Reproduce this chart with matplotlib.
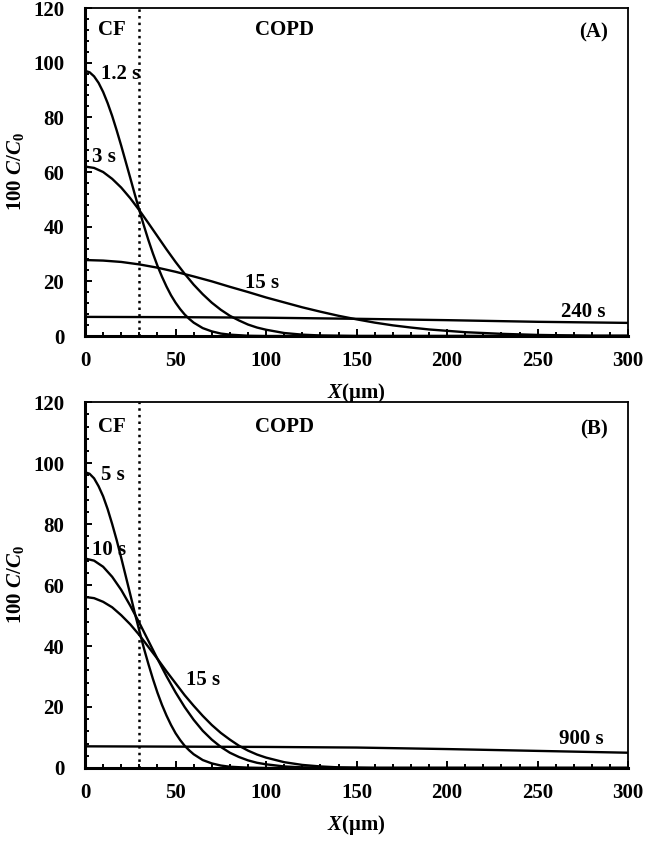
import numpy as np
import matplotlib
matplotlib.use("Agg")
import matplotlib.pyplot as plt
from matplotlib.ticker import MultipleLocator

plt.rcParams['font.family'] = ['Liberation Serif', 'DejaVu Serif']
plt.rcParams['font.weight'] = 'bold'
plt.rcParams['mathtext.fontset'] = 'custom'
plt.rcParams['mathtext.rm'] = 'Liberation Serif:bold'
plt.rcParams['mathtext.it'] = 'Liberation Serif:italic:bold'
plt.rcParams['mathtext.bf'] = 'Liberation Serif:bold'

# values, 100 C/C0 vs X (um)
x_steep = [0, 2.5, 5, 7.5, 10, 12.5, 15, 17.5, 20, 22.5, 25, 27.5, 30, 32.5, 35,
           37.5, 40, 42.5, 45, 47.5, 50, 52.5, 55, 57.5, 60, 65, 70, 75, 80, 90,
           100, 150, 200, 250, 300]
x_fine = [0, 5, 10, 15, 20, 25, 30, 35, 40, 45, 50, 55, 60, 65, 70, 75, 80,
          85, 90, 95, 100, 110, 120, 130, 140, 150, 160, 200, 250, 300]
x_wide = [0, 10, 20, 30, 40, 50, 60, 70, 80, 90, 100, 110, 120, 130, 140, 150,
          160, 170, 180, 190, 200, 210, 220, 230, 240, 250, 260, 270, 280, 290, 300]
x_flat = [0, 50, 100, 150, 200, 250, 300]

# panel A
a_1p2s = [97.0, 96.5, 95.0, 92.6, 89.3, 85.2, 80.5, 75.2, 69.6, 63.7, 57.8, 51.8,
          46.0, 40.4, 35.1, 30.2, 25.7, 21.7, 18.1, 14.9, 12.2, 9.9, 7.9, 6.3, 4.9,
          2.9, 1.7, 0.9, 0.5, 0.1, 0, 0, 0, 0, 0]
a_3s = [62.0, 61.5, 60.0, 57.5, 54.3, 50.4, 46.0, 41.3, 36.5, 31.7, 27.1, 22.8, 18.8,
        15.3, 12.2, 9.6, 7.4, 5.7, 4.2, 3.1, 2.3, 1.1, 0.5, 0.2, 0.1, 0, 0, 0, 0, 0]
a_15s = [27.8, 27.6, 27.1, 26.2, 25.0, 23.5, 21.8, 20.0, 18.0, 16.1, 14.1, 12.3, 10.5,
         8.9, 7.4, 6.1, 4.9, 3.9, 3.1, 2.4, 1.9, 1.4, 1.1, 0.8, 0.6, 0.4, 0.3, 0.2,
         0.1, 0.1, 0.1]
a_240s = [7.0, 6.9, 6.7, 6.3, 5.8, 5.2, 4.8]

# panel B
b_5s = [97.0, 96.5, 95.0, 92.4, 89.1, 84.9, 80.0, 74.7, 68.9, 62.9, 56.9, 50.8,
        45.0, 39.3, 34.1, 29.2, 24.7, 20.7, 17.2, 14.1, 11.4, 9.2, 7.3, 5.8, 4.5,
        2.6, 1.5, 0.8, 0.4, 0.1, 0, 0, 0, 0, 0]
b_10s = [68.7, 68.0, 66.0, 62.7, 58.4, 53.2, 47.6, 41.7, 35.8, 30.1, 24.8, 20.0, 15.8,
         12.2, 9.3, 6.9, 5.0, 3.6, 2.5, 1.7, 1.2, 0.5, 0.2, 0.1, 0, 0, 0, 0, 0, 0]
b_15s = [56.1, 55.7, 54.5, 52.7, 50.1, 47.1, 43.6, 39.7, 35.8, 31.7, 27.8, 23.9, 20.4,
         17.1, 14.1, 11.5, 9.3, 7.3, 5.7, 4.4, 3.4, 1.9, 1.0, 0.5, 0.2, 0.1, 0, 0, 0, 0]
b_900s = [7.1, 7.0, 6.9, 6.7, 6.2, 5.6, 5.0]

interface_x = 30

fig = plt.figure(figsize=(6.49, 8.43), dpi=100)
ax_a = fig.add_axes([0.131, 0.6014, 0.837, 0.3891])
ax_b = fig.add_axes([0.131, 0.089, 0.837, 0.434])

lw = 1.7
fs = 15


def style(ax):
    ax.set_xlim(0, 300)
    ax.set_ylim(0, 120)
    ax.xaxis.set_major_locator(MultipleLocator(50))
    ax.xaxis.set_minor_locator(MultipleLocator(10))
    ax.yaxis.set_major_locator(MultipleLocator(20))
    ax.yaxis.set_minor_locator(MultipleLocator(4))
    ax.tick_params(which='both', direction='in', top=False, right=False,
                   width=1.4, labelsize=fs)
    ax.tick_params(axis='x', which='major', length=5, pad=11)
    ax.tick_params(axis='y', which='major', length=5, pad=15)
    ax.tick_params(which='minor', length=3)
    for s in ['left', 'bottom']:
        ax.spines[s].set_linewidth(2.2)
    for s in ['top', 'right']:
        ax.spines[s].set_linewidth(1.3)
    ax.axvline(interface_x, color='black', ls=':', lw=1.8)
    ax.set_xlabel(r'$X$(μm)', fontsize=fs, fontweight='bold', labelpad=7)
    ax.set_ylabel(r'100 $C$/$C_0$', fontsize=fs, fontweight='bold', labelpad=5)
    ax.text(15, 112, 'CF', fontsize=fs, ha='center', va='center')
    ax.text(110, 112, 'COPD', fontsize=fs, ha='center', va='center')


style(ax_a)
ax_a.plot(x_steep, a_1p2s, color='black', lw=lw)
ax_a.plot(x_fine, a_3s, color='black', lw=lw)
ax_a.plot(x_wide, a_15s, color='black', lw=lw)
ax_a.plot(x_flat, a_240s, color='black', lw=lw)
ax_a.text(281, 111, '(A)', fontsize=fs, ha='center', va='center')
ax_a.text(9, 96, '1.2 s', fontsize=fs, ha='left', va='center')
ax_a.text(4, 65.5, '3 s', fontsize=fs, ha='left', va='center')
ax_a.text(98, 19.4, '15 s', fontsize=fs, ha='center', va='center')
ax_a.text(275, 8.8, '240 s', fontsize=fs, ha='center', va='center')

style(ax_b)
ax_b.plot(x_steep, b_5s, color='black', lw=lw)
ax_b.plot(x_fine, b_10s, color='black', lw=lw)
ax_b.plot(x_fine, b_15s, color='black', lw=lw)
ax_b.plot(x_flat, b_900s, color='black', lw=lw)
ax_b.text(281, 111, '(B)', fontsize=fs, ha='center', va='center')
ax_b.text(9, 96, '5 s', fontsize=fs, ha='left', va='center')
ax_b.text(4, 71.5, '10 s', fontsize=fs, ha='left', va='center')
ax_b.text(65, 29, '15 s', fontsize=fs, ha='center', va='center')
ax_b.text(274, 9.4, '900 s', fontsize=fs, ha='center', va='center')

fig.savefig('out.png', dpi=100)
